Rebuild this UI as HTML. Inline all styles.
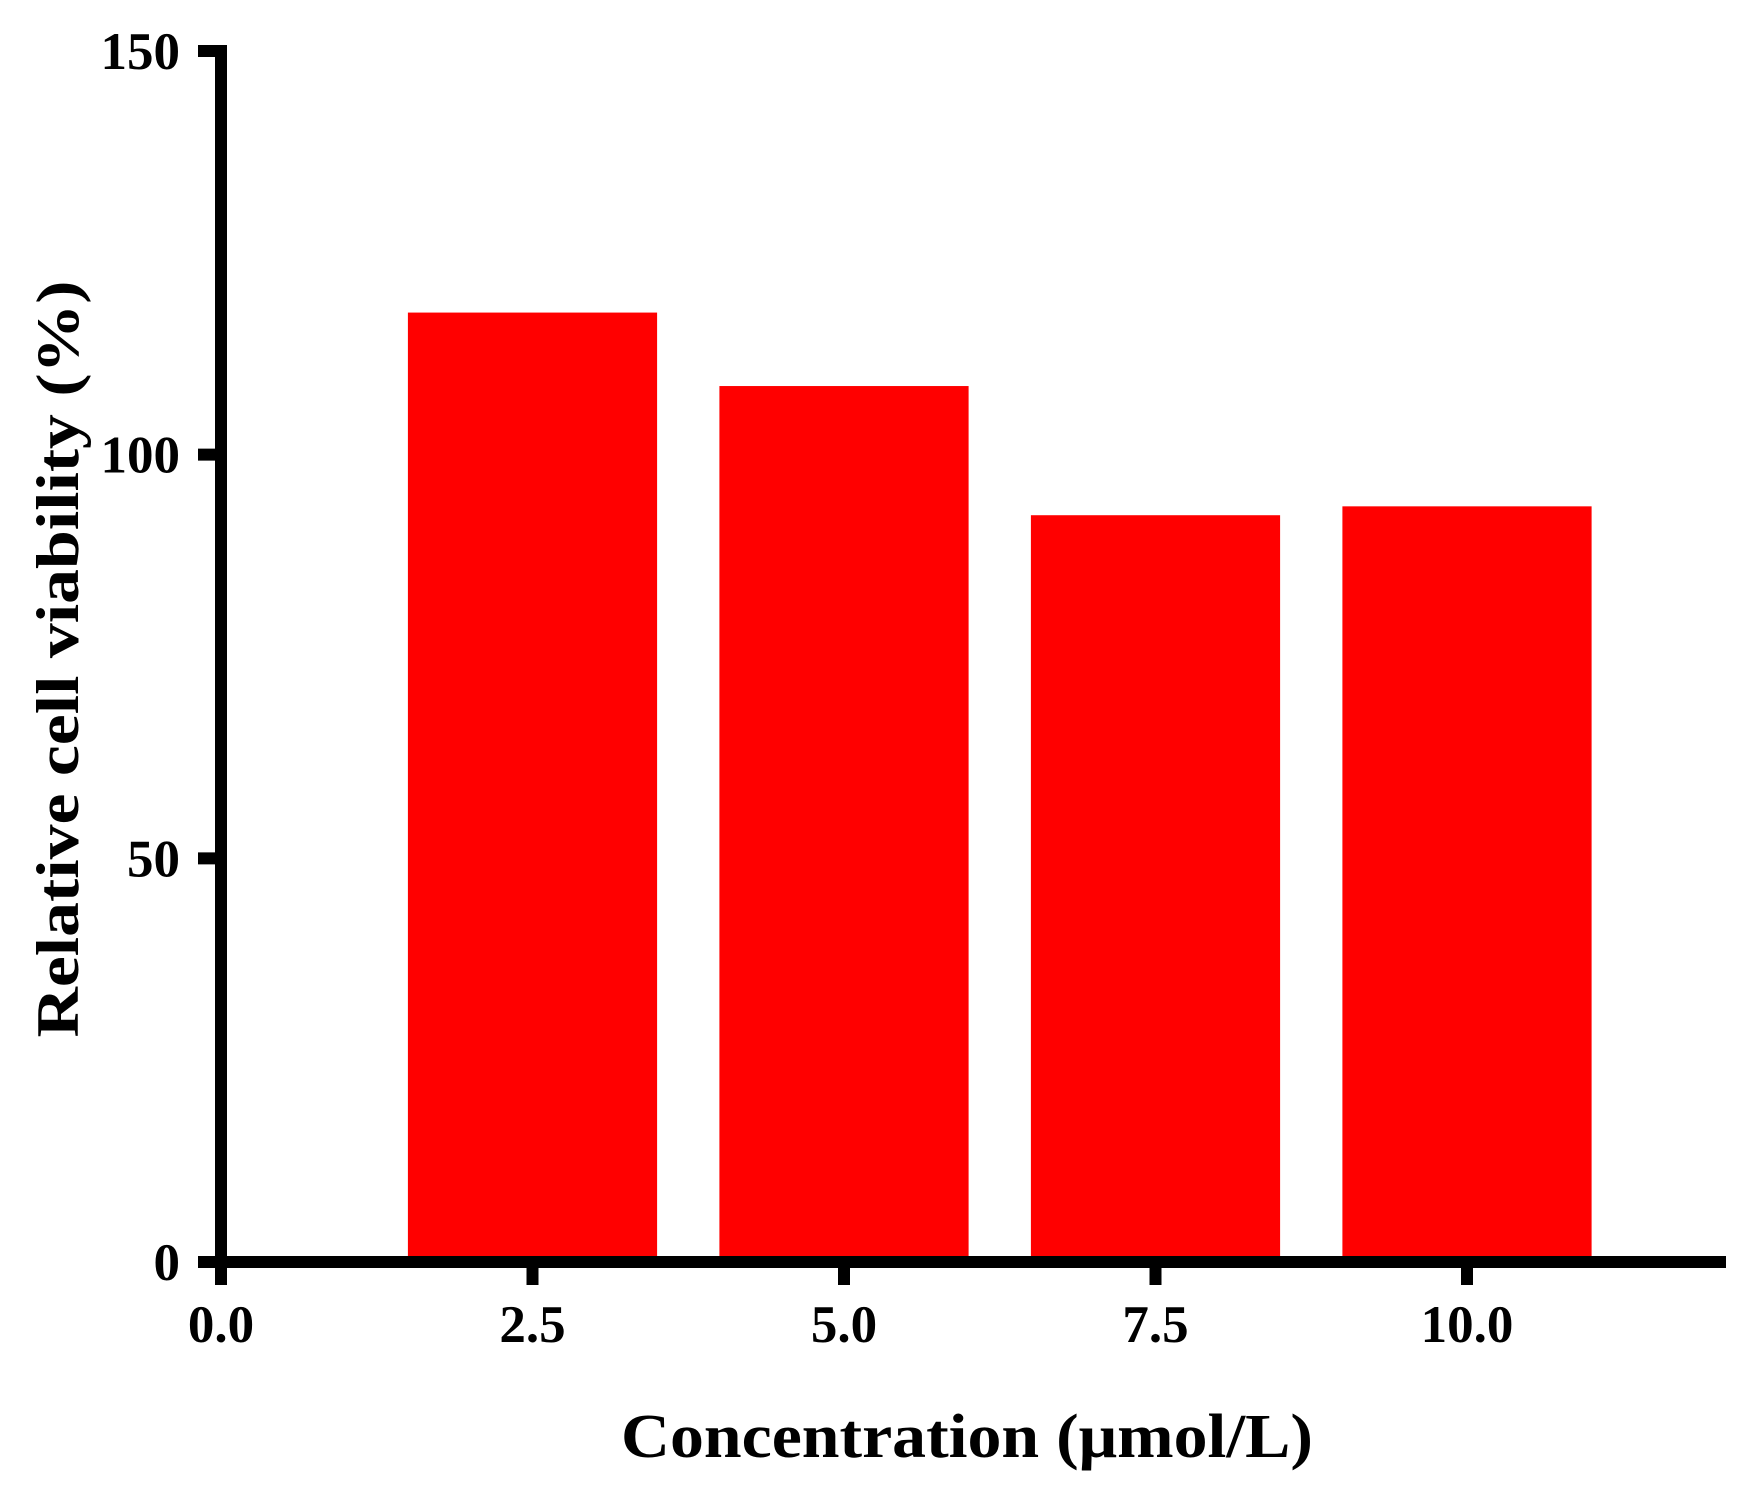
<!DOCTYPE html>
<html><head><meta charset="utf-8"><style>
html,body{margin:0;padding:0;background:#fff;}
svg{display:block;font-family:"Liberation Serif",serif;font-weight:bold;}
</style></head><body>
<svg id="chart" width="1749" height="1487" viewBox="0 0 1749 1487" xmlns="http://www.w3.org/2000/svg">
<g id="bars"></g>
<g id="axes"></g>
<text x="0" y="0" transform="translate(78,659) rotate(-90)" text-anchor="middle" font-size="60" textLength="757" lengthAdjust="spacingAndGlyphs">Relative cell viability (%)</text>
<text x="967" y="1457" text-anchor="middle" font-size="62" textLength="692" lengthAdjust="spacingAndGlyphs">Concentration (μmol/L)</text>
</svg>
<script>
const categories = [2.5, 5.0, 7.5, 10.0];
const values = [117.6, 108.5, 92.5, 93.6];
const xTicks = [0, 2.5, 5.0, 7.5, 10.0];
const xTickLabels = ["0.0", "2.5", "5.0", "7.5", "10.0"];
const yTicks = [0, 50, 100, 150];
const yTickLabels = ["0", "50", "100", "150"];

const NS = "http://www.w3.org/2000/svg";
const x0 = 221, xPerUnit = 124.6;
const y0 = 1262, yPerUnit = (1262 - 51) / 150;
const xs = v => x0 + v * xPerUnit;
const ys = v => y0 - v * yPerUnit;
const barW = 2.0 * xPerUnit;

const bars = document.getElementById('bars');
categories.forEach((c, i) => {
  const r = document.createElementNS(NS, 'rect');
  r.setAttribute('x', xs(c) - barW / 2);
  r.setAttribute('y', ys(values[i]));
  r.setAttribute('width', barW);
  r.setAttribute('height', ys(0) - ys(values[i]));
  r.setAttribute('fill', '#ff0000');
  
  
  bars.appendChild(r);
});

const axes = document.getElementById('axes');
function line(x1, y1, x2, y2, name) {
  const l = document.createElementNS(NS, 'line');
  l.setAttribute('x1', x1); l.setAttribute('y1', y1);
  l.setAttribute('x2', x2); l.setAttribute('y2', y2);
  l.setAttribute('stroke', '#000'); l.setAttribute('stroke-width', 12);
  
  
  axes.appendChild(l);
}
line(x0, 45, x0, 1285, 'y-axis-line');
line(198, y0, 1726, y0, 'x-axis-line');

yTicks.forEach((t, i) => {
  line(198, ys(t), x0, ys(t), 'y-tick');
  const tx = document.createElementNS(NS, 'text');
  tx.setAttribute('x', 180);
  tx.setAttribute('y', ys(t) + 18);
  tx.setAttribute('text-anchor', 'end');
  tx.setAttribute('font-size', '53');
  tx.textContent = yTickLabels[i];
  
  
  axes.appendChild(tx);
});
xTicks.forEach((t, i) => {
  line(xs(t), y0, xs(t), 1285, 'x-tick');
  const tx = document.createElementNS(NS, 'text');
  tx.setAttribute('x', xs(t));
  tx.setAttribute('y', 1342);
  tx.setAttribute('text-anchor', 'middle');
  tx.setAttribute('font-size', '53');
  tx.textContent = xTickLabels[i];
  
  
  axes.appendChild(tx);
});
</script>
</body></html>
